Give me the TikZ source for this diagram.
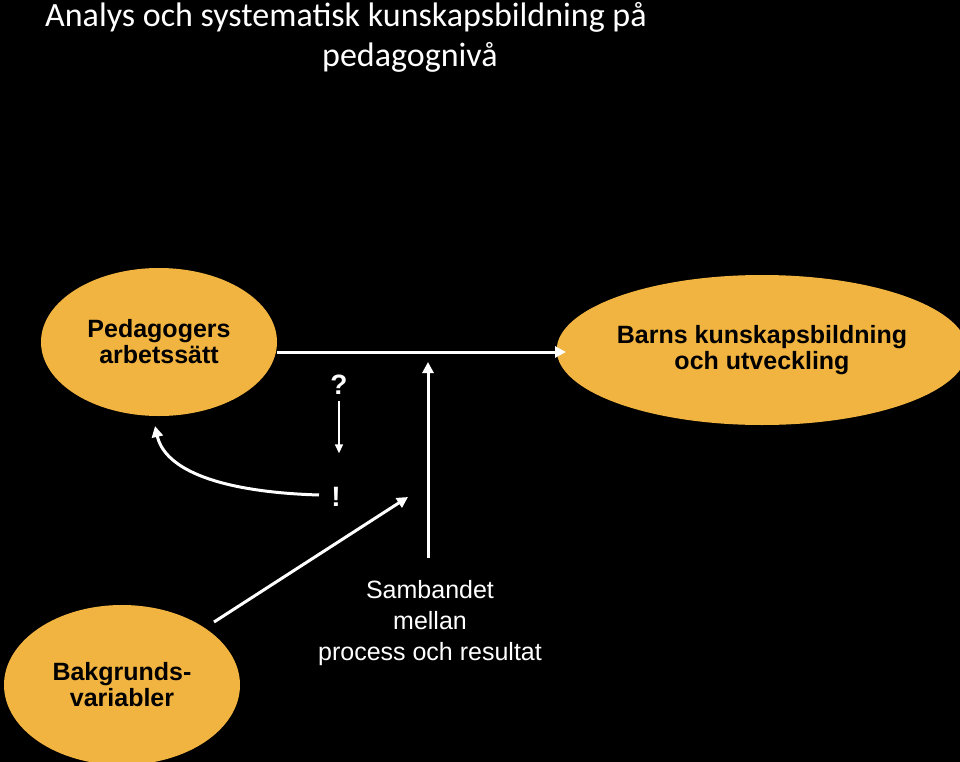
\documentclass[tikz,border=0pt]{standalone}
\usepackage{fontspec}
\setmainfont{Liberation Sans}
\newfontfamily\titlefont{Carlito}
\usetikzlibrary{arrows.meta,shapes.geometric}
\definecolor{orangefill}{RGB}{242,180,64}
\tikzset{
  blob/.style={ellipse, fill=orangefill, font=\bfseries\fontsize{25}{26}\selectfont, align=center, inner sep=0pt},
  wline/.style={white, line width=3pt, -{Triangle[length=11pt,width=11pt]}},
  thinline/.style={white, line width=1.5pt, -{Triangle[length=9pt,width=8pt]}},
  mark text/.style={white, font=\bfseries\fontsize{28}{30}\selectfont}
}
\begin{document}
\begin{tikzpicture}[x=1pt,y=-1pt]
\fill[black] (0,0) rectangle (960,762);
\useasboundingbox (0,0) rectangle (960,762);
% title
\node[white, anchor=north west, align=left, font=\titlefont\fontsize{34}{40}\selectfont, inner sep=0pt] (title) at (45,2)
  {Analys och systematisk kunskapsbildning på\\\hspace*{277pt}pedagognivå};
% ellipses
\node[blob, minimum width=236pt, minimum height=148pt] (ped) at (159,342) {Pedagogers\\arbetssätt};
\node[blob, minimum width=390pt, minimum height=150pt] (barn) at (762,350) {Barns kunskapsbildning\\och utveckling};
\node[blob, minimum width=236pt, minimum height=160pt] (bak) at (122,685) {Bakgrunds-\\variabler};
% marks
\node[mark text] (q) at (339,385) {?};
\node[mark text] (ex) at (336,497) {!};
\node[white, align=center, font=\fontsize{25}{31}\selectfont] (samb) at (430,623) {Sambandet\\mellan\\process och resultat};
% connectors
\coordinate (hs) at (277,352);
\coordinate (he) at (566,352);
\draw[wline] (hs) -- (he);
\coordinate (vs) at (428,558);
\coordinate (ve) at (428,362);
\draw[wline] (vs) -- (ve);
\coordinate (bs) at (214,622);
\coordinate (be) at (408,497);
\draw[wline] (bs) -- (be);
\draw[thinline] (q.south) ++(0,3) -- ++(0,52);
\coordinate (cs) at (319,495);
\coordinate (ce) at (155,426);
\draw[wline] (cs) .. controls (220,492) and (165,470) .. (ce);
\end{tikzpicture}
\end{document}
